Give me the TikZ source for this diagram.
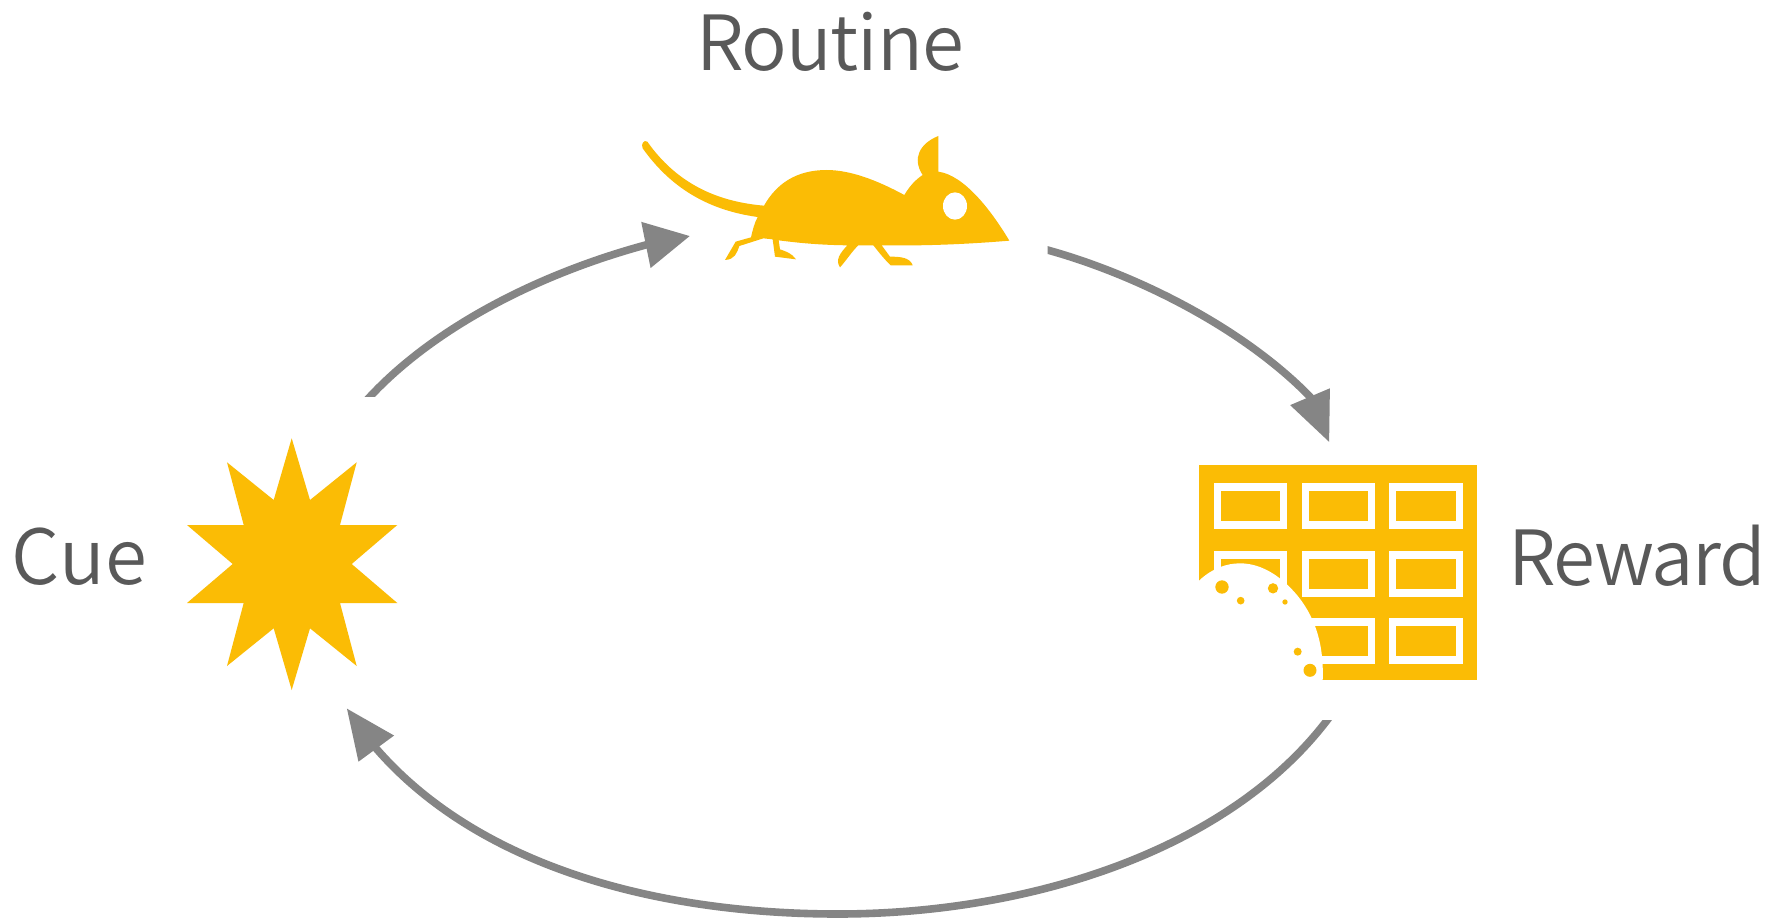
\documentclass[tikz,border=0pt]{standalone}
\usepackage{fontspec}
\usetikzlibrary{arrows.meta}
\setmainfont{Noto Sans CJK SC DemiLight}
\definecolor{gold}{HTML}{FBBC05}
\definecolor{flowgray}{HTML}{858585}
\definecolor{labelgray}{HTML}{595959}
\tikzset{
  lbl/.style={anchor=base west,inner sep=0pt,outer sep=0pt,text=labelgray,font=\fontsize{76}{90}\selectfont},
  flow/.style={draw=flowgray,line width=7.6pt},
  shape gold/.style={fill=gold,draw=none},
  shape white/.style={fill=white,draw=none},
}
\begin{document}
\begin{tikzpicture}[x=1pt,y=-1pt]
\useasboundingbox (0,0) rectangle (1767,923);
\fill[white] (0,0) rectangle (1767,923);
% labels
\node[lbl] (routine) at (696,71) {\addfontfeatures{LetterSpace=-1.5}Routine};
\node[lbl] (reward) at (1508,585) {\addfontfeatures{LetterSpace=-2}Reward};
\node[lbl] (cue) at (12,584) {Cue};
% star
\fill[shape gold] (291.7,438.3) -- (310,500) -- (356.7,462.3) -- (340,525) -- (397.3,525) -- (351.7,564) -- (397.3,603) -- (340,603) -- (356.7,666) -- (310,628.3) -- (291.7,690) -- (273.7,628.3) -- (227,666) -- (243.7,603) -- (187,603) -- (232.7,564) -- (187,525) -- (243.7,525) -- (227,462.3) -- (273.7,500) -- cycle;
% mouse
\begin{scope}[shift={(620,120)},x=0.33333pt,y=-0.33333pt]
\fill[shape gold] (1168,362) .. controls (1110,265) and (1030,165) .. (955,155) -- (955,48)
  .. controls (900,70) and (875,115) .. (908,165)
  .. controls (885,180) and (868,200) .. (853,225)
  .. controls (770,180) and (690,150) .. (620,150)
  .. controls (530,150) and (470,190) .. (432,257)
  .. controls (290,245) and (170,190) .. (82,65)
  .. controls (72,58) and (62,72) .. (68,85)
  .. controls (150,200) and (260,270) .. (413,291)
  .. controls (403,310) and (398,330) .. (393,352)
  -- (347,365) -- (315,420)
  .. controls (345,418) and (350,400) .. (358,378)
  -- (430,355) -- (458,358) -- (465,410) -- (528,418)
  .. controls (515,400) and (500,395) .. (480,388)
  -- (476,361)
  .. controls (560,372) and (620,375) .. (682,376)
  .. controls (660,400) and (645,420) .. (660,442)
  .. controls (680,420) and (695,395) .. (715,376)
  -- (760,376)
  .. controls (775,395) and (795,420) .. (812,436) -- (878,436)
  .. controls (870,412) and (840,410) .. (810,410)
  -- (785,376)
  .. controls (920,378) and (1050,372) .. (1168,362) -- cycle;
\fill[shape white] (1005,258) ellipse [x radius=36,y radius=41];
\end{scope}
% chocolate bar
\begin{scope}[shift={(1180,450)},x=0.33333pt,y=-0.33333pt]
\fill[shape gold] (58,46) rectangle (891,690);
\foreach \cx in {101,365,628} \foreach \cy in {100,302,504} {
  \fill[shape white] (\cx,\cy) rectangle ++(221,138);
  \fill[shape gold] (\cx+21,\cy+24) rectangle ++(179,90);
}
\fill[shape white] (55,394) .. controls (95,355) and (140,340) .. (180,340)
  .. controls (250,340) and (310,385) .. (355,440)
  .. controls (410,510) and (432,590) .. (428,693) -- (55,693) -- cycle;
\fill[shape gold] (126,411) circle [radius=20];
\fill[shape gold] (182,452) circle [radius=11.5];
\fill[shape gold] (279,415) circle [radius=15.5];
\fill[shape gold] (315,456) circle [radius=8];
\fill[shape gold] (353,605) circle [radius=12];
\fill[shape gold] (390,661) circle [radius=19.5];
\end{scope}
% connector anchors
\coordinate (cueOut) at (366,401);
\coordinate (routineBase) at (645.6,245);
\coordinate (routineTip) at (690,236);
\coordinate (routineOut) at (1043,248.8);
\coordinate (rewardBase) at (1310,396.7);
\coordinate (rewardTip) at (1329.3,442.3);
\coordinate (rewardOut) at (1331,715);
\coordinate (loopLow) at (838,914);
\coordinate (cueBase) at (376.2,748.5);
\coordinate (cueTip) at (346.7,708.3);
% connectors
\begin{scope}
\clip (300,150) rectangle (720,396.7);
\draw[flow,-{Triangle[length=45pt,width=45pt]}] (cueOut) .. controls (430,330) and (535,275) .. (routineBase) -- (routineTip);
\end{scope}
\begin{scope}
\clip (1047.7,200) rectangle (1400,470);
\draw[flow,-{Triangle[length=49.5pt,width=41pt]}] (routineOut) .. controls (1130,272) and (1240,325) .. (rewardBase) -- (rewardTip);
\end{scope}
\begin{scope}
\clip (300,690) -- (900,690) -- (900,720) -- (1400,720) -- (1400,923) -- (300,923) -- cycle;
\draw[flow,-{Triangle[length=50pt,width=42pt]}] (rewardOut) .. controls (1232,850) and (1030,914) .. (loopLow) .. controls (660,914) and (480,868) .. (cueBase) -- (cueTip);
\end{scope}
\end{tikzpicture}
\end{document}
